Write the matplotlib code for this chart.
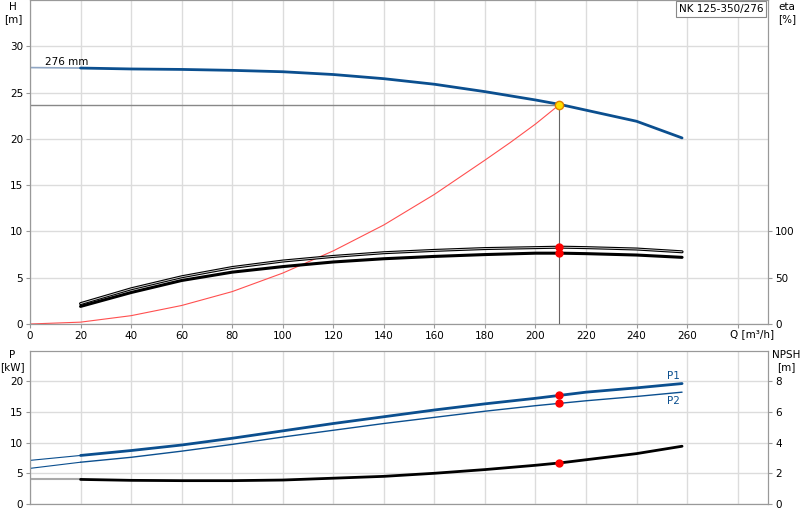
import matplotlib
matplotlib.use("Agg")
import matplotlib.pyplot as plt
import numpy as np

q = [20, 40, 60, 80, 100, 120, 140, 160, 180, 200, 210, 220, 240, 258]
head = [27.65, 27.55, 27.5, 27.4, 27.25, 26.95, 26.5, 25.9, 25.1, 24.2, 23.7, 23.1, 21.9, 20.1]
head_ext_q = [0, 20]
head_ext = [27.7, 27.65]
eta_a = [22, 38, 51, 61, 68, 73, 77, 79.5, 81.5, 82.5, 83, 82.5, 81, 78]
eta_b = [19, 34, 47, 56, 62, 67, 70.5, 73, 75, 76.5, 76.5, 76, 74.5, 72]
sys_q = [0, 20, 40, 60, 80, 100, 120, 140, 160, 180, 190, 200, 209.5]
sys_h = [0, 0.2, 0.9, 2.0, 3.5, 5.5, 7.9, 10.7, 14.0, 17.7, 19.6, 21.6, 23.7]
p1 = [7.9, 8.7, 9.6, 10.7, 11.9, 13.1, 14.2, 15.3, 16.3, 17.2, 17.7, 18.2, 18.9, 19.6]
p2 = [6.8, 7.6, 8.6, 9.7, 10.9, 12.0, 13.1, 14.1, 15.1, 16.0, 16.4, 16.8, 17.5, 18.2]
p1_ext = [7.1, 7.9]
p2_ext = [5.8, 6.8]
npsh = [1.6, 1.54, 1.52, 1.52, 1.56, 1.68, 1.8, 2.0, 2.24, 2.52, 2.68, 2.88, 3.28, 3.76]
npsh_ext = [1.6, 1.6]
q_op, h_op = 209.5, 23.7
eta_op = [83, 76.5]
p_op = [17.7, 16.4]
npsh_op = 2.68

blue = "#0b4f8f"
grid = "#dcdcdc"
spc = "#999999"
plt.rcParams['font.size'] = 7.5
plt.rcParams['font.family'] = ['DejaVu Sans']
plt.rcParams['lines.solid_capstyle'] = 'round'
plt.rcParams['lines.solid_joinstyle'] = 'round'

fig = plt.figure(figsize=(8, 5.2), dpi=100)
ax = fig.add_axes([30/800, 196/520, 738/800, 324/520])
ax.set_xlim(0, 292); ax.set_ylim(0, 35)
ax.set_xticks(range(0, 281, 20)); ax.set_yticks(range(0, 31, 5))
ax.set_xticklabels([str(v) if v <= 260 else "" for v in range(0, 281, 20)])
ax.grid(True, color=grid, lw=1)
ax.set_axisbelow(True)
for s in ax.spines.values(): s.set_color(spc)
ax.tick_params(length=3, color=spc, pad=2)
ax2 = ax.twinx(); ax2.set_ylim(0, 350); ax2.set_yticks([0, 50, 100])
ax2.tick_params(length=3, color=spc, pad=2)
for s in ax2.spines.values(): s.set_color(spc)

ax.plot(head_ext_q, head_ext, color="#8fa6c4", lw=1.2)
ax.plot(q, head, color=blue, lw=2)
ax.plot(sys_q, sys_h, color="#ff5050", lw=0.8)
ax2.plot(q, eta_a, color="black", lw=2.2)
ax2.plot(q, eta_a, color="#dddddd", lw=0.6)
ax2.plot(q, eta_b, color="black", lw=2.2)
ax.plot([0, q_op], [h_op, h_op], color="#888888", lw=1)
ax.plot([q_op, q_op], [0, h_op], color="#666666", lw=0.8)
ax2.plot([q_op]*2, eta_op, "o", color="red", ms=5)
ax.plot(q_op, h_op, "o", color="#ffe000", mec="#e08000", ms=6)
ax.text(6, 28.0, "276 mm", fontsize=7.5)
fig.text(13/800, 1-2/520, "H\n[m]", ha="center", va="top")
fig.text(787/800, 1-2/520, "eta\n[%]", ha="center", va="top")
fig.text(721/800, 1-9/520, "NK 125-350/276", ha="center", va="center",
         bbox=dict(boxstyle="square,pad=0.3", fc="white", ec="#888888", lw=0.8))
fig.text(752/800, 1-334/520, "Q [m³/h]", ha="center", va="center")

bx = fig.add_axes([30/800, 16/520, 738/800, 153/520])
bx.set_xlim(0, 292); bx.set_ylim(0, 24.9)
bx.set_xticks(range(0, 281, 20)); bx.set_xticklabels([])
bx.set_yticks(range(0, 21, 5))
bx.grid(True, color=grid, lw=1); bx.set_axisbelow(True)
for s in bx.spines.values(): s.set_color(spc)
bx.tick_params(length=3, color=spc, pad=2)
bx.tick_params(axis="x", length=0)
bx2 = bx.twinx(); bx2.set_ylim(0, 24.9*0.4); bx2.set_yticks(range(0, 9, 2))
bx2.tick_params(length=3, color=spc, pad=2)
for s in bx2.spines.values(): s.set_color(spc)
bx.plot(head_ext_q, p1_ext, color=blue, lw=0.8)
bx.plot(head_ext_q, p2_ext, color=blue, lw=0.8)
bx.plot(q, p1, color=blue, lw=2)
bx.plot(q, p2, color=blue, lw=1)
bx2.plot(head_ext_q, npsh_ext, color="#aaaaaa", lw=1.5)
bx2.plot(q, npsh, color="black", lw=2)
bx.plot([q_op]*2, p_op, "o", color="red", ms=5)
bx2.plot(q_op, npsh_op, "o", color="red", ms=5)
bx.text(257, 20.3, "P1", color=blue, ha="right")
bx.text(257, 16.3, "P2", color=blue, ha="right")
fig.text(12/800, 1-350/520, "P\n[kW]", ha="center", va="top")
fig.text(786/800, 1-350/520, "NPSH\n[m]", ha="center", va="top")

fig.savefig("out.png", dpi=100)
